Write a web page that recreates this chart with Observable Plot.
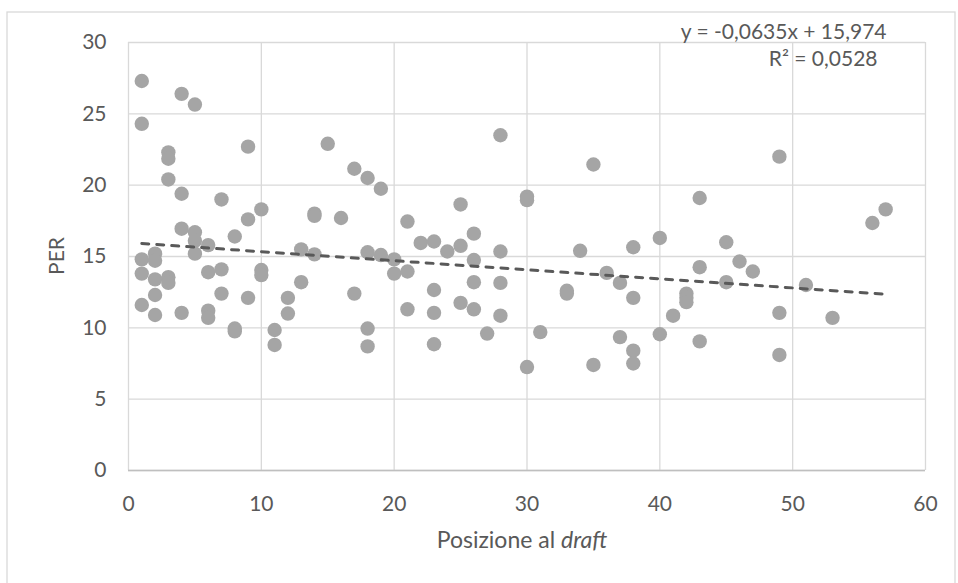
<!DOCTYPE html>
<html>
<head>
<meta charset="utf-8">
<script src="https://cdn.jsdelivr.net/npm/d3@7"></script>
<script src="https://cdn.jsdelivr.net/npm/@observablehq/plot@0.6"></script>
<style>
  html, body { margin: 0; padding: 0; background: #fff; }
  #chart { position: relative; width: 958px; height: 583px; overflow: hidden; }
</style>
</head>
<body>
<div id="chart"></div>
<script>
// Draft position (x) and PER (y) for each player
const draftPos = [
  1,1,1,1,1,
  2,2,2,2,2,
  3,3,3,3,3,
  4,4,4,4,
  5,5,5,5,
  6,6,6,6,
  7,7,7,
  8,8,8,
  9,9,9,
  10,10,10,
  11,11,
  12,12,
  13,13,
  14,14,14,
  15,
  16,
  17,17,
  18,18,18,18,
  19,19,
  20,20,
  21,21,21,
  22,
  23,23,23,23,
  24,
  25,25,25,
  26,26,26,26,
  27,
  28,28,28,28,
  30,30,30,
  31,
  33,33,
  34,
  35,35,
  36,
  37,37,
  38,38,38,38,
  40,40,
  41,
  42,42,42,
  43,43,43,
  45,45,
  46,
  47,
  49,49,49,
  51,
  53,
  56,
  57
];
const per = [
  27.3,24.3,14.8,13.8,11.6,
  15.2,14.7,13.4,12.3,10.9,
  22.3,21.85,20.4,13.55,13.15,
  26.4,19.4,16.95,11.05,
  25.65,16.7,16.1,15.2,
  15.8,13.9,11.2,10.7,
  19.0,14.1,12.4,
  16.4,9.95,9.75,
  22.7,17.6,12.1,
  18.3,14.05,13.7,
  9.85,8.8,
  12.1,11.0,
  15.5,13.2,
  18.0,17.85,15.15,
  22.9,
  17.7,
  21.15,12.4,
  20.5,15.3,9.95,8.7,
  19.75,15.1,
  14.8,13.8,
  17.45,13.95,11.3,
  15.95,
  16.05,12.65,11.05,8.85,
  15.35,
  18.65,15.75,11.75,
  16.6,14.75,13.2,11.3,
  9.6,
  23.5,15.35,13.15,10.85,
  19.2,18.95,7.25,
  9.7,
  12.6,12.4,
  15.4,
  21.45,7.4,
  13.85,
  13.15,9.35,
  15.65,12.1,8.4,7.5,
  16.3,9.55,
  10.85,
  12.4,12.1,11.8,
  19.1,14.25,9.05,
  16.0,13.2,
  14.65,
  13.95,
  22.0,11.05,8.1,
  13.0,
  10.7,
  17.35,
  18.3
];
const xTicks = [0, 10, 20, 30, 40, 50, 60];
const yTicks = [0, 5, 10, 15, 20, 25, 30];
const slope = -0.0635;
const intercept = 15.974;
const eqLabel = "y = -0,0635x + 15,974";
const r2Label = "R² = 0,0528";
const yLabel = "PER";
const xLabelMain = "Posizione al ";
const xLabelItalic = "draft";

const points = draftPos.map((d, i) => ({x: d, y: per[i]}));
const xMin = d3.min(draftPos), xMax = d3.max(draftPos);
const trend = [xMin, xMax].map(x => ({x, y: intercept + slope * x}));

const FONT = "Lato, 'Open Sans', sans-serif";
const TXT = "#595959";
const FS = 21;

const svg = Plot.plot({
  width: 958,
  height: 583,
  marginLeft: 128,
  marginRight: 33,
  marginTop: 42,
  marginBottom: 113,
  style: {fontFamily: FONT, fontSize: FS + "px", color: TXT, background: "#fff"},
  x: {domain: [0, 60], ticks: xTicks},
  y: {domain: [0, 30], ticks: yTicks},
  marks: [
    Plot.gridX(xTicks, {stroke: "#d9d9d9", strokeOpacity: 1, strokeWidth: 1.3}),
    Plot.gridY(yTicks, {stroke: "#d9d9d9", strokeOpacity: 1, strokeWidth: 1.3}),
    Plot.ruleY([0], {stroke: "#bfbfbf", strokeWidth: 1.5}),
    Plot.axisX(xTicks, {tickSize: 0, tickPadding: 26, label: null, fill: TXT, fontSize: FS}),
    Plot.axisY(yTicks, {tickSize: 0, tickPadding: 22, label: null, fill: TXT, fontSize: FS}),
    Plot.dot(points, {x: "x", y: "y", r: 7.2, fill: "#a5a5a5", stroke: "none"}),
    Plot.line(trend, {x: "x", y: "y", stroke: "#595959", strokeWidth: 3, strokeDasharray: "7,8", strokeLinecap: "round"}),
    Plot.text([eqLabel], {frameAnchor: "top-right", text: d => d, dx: -39, dy: -18, textAnchor: "end", fill: TXT, fontSize: FS}),
    Plot.text([r2Label], {frameAnchor: "top-right", text: d => d, dx: -48, dy: 9, textAnchor: "end", fill: TXT, fontSize: FS})
  ]
});

const s = d3.select(svg);
// chart border
s.insert("rect", ":first-child")
  .attr("x", 7).attr("y", 12).attr("width", 948).attr("height", 620)
  .attr("fill", "none").attr("stroke", "#d9d9d9").attr("stroke-width", 1.3);
// y axis title
s.append("text")
  .attr("transform", "translate(64,256) rotate(-90)")
  .attr("text-anchor", "middle")
  .attr("font-family", FONT).attr("font-size", FS).attr("fill", TXT)
  .text(yLabel);
// x axis title
const xt = s.append("text")
  .attr("x", 522).attr("y", 548)
  .attr("text-anchor", "middle")
  .attr("font-family", FONT).attr("font-size", 23).attr("fill", TXT);
xt.append("tspan").text(xLabelMain);
xt.append("tspan").attr("font-style", "italic").text(xLabelItalic);

document.getElementById("chart").appendChild(svg);
</script>
</body>
</html>
